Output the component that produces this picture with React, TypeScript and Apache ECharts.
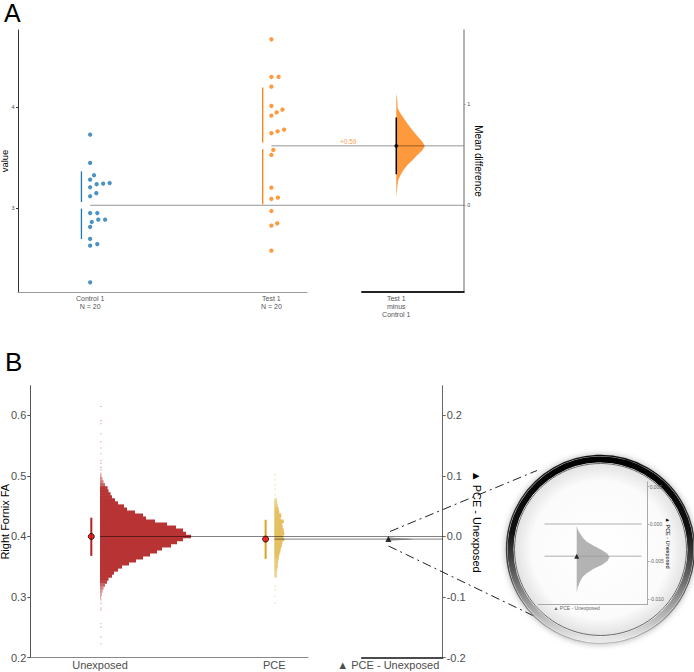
import React, { useEffect, useRef } from "react";
import * as echarts from "echarts";

// ---------------- Panel A data ----------------
const groupsA = ["Control 1", "Test 1"];
const control1 = [3.729, 3.449, 3.327, 3.283, 3.238, 3.244, 3.25, 3.208, 3.149, 3.119, 2.953, 2.953, 2.887, 2.887, 2.864, 2.815, 2.696, 2.63, 2.644, 2.267];
// beeswarm offsets (in dot widths)
const control1Swarm = [0, 0, 0.6, 0, 1, 2, 3, 0, 0.95, 0, 0, 1.1, 1.25, 2.3, 0.25, 0, 0, 0, 1.1, 0];
const test1 = [4.673, 4.3, 4.3, 4.204, 4.013, 3.976, 3.95, 3.917, 3.778, 3.762, 3.743, 3.578, 3.528, 3.204, 3.105, 3.092, 2.973, 2.851, 2.828, 2.58];
const test1Swarm = [0, 0, 1.1, 0, 0, 1.7, 0.8, 0, 1.95, 0.95, 0, 0.3, 0, 0, 1.0, 0, 0, 0.9, 0, 0];
const diffCI_A = [0.306, 0.87];
// bootstrap distribution of the mean difference (value, relative density)
const bootA_y = [1.109, 1.039, 0.961, 0.908, 0.859, 0.809, 0.743, 0.677, 0.628, 0.588, 0.546, 0.497, 0.447, 0.398, 0.348, 0.299, 0.25, 0.184, 0.085];
const bootA_d = [0, 0.035, 0.05, 0.15, 0.27, 0.39, 0.57, 0.77, 0.92, 1.0, 0.92, 0.74, 0.57, 0.39, 0.25, 0.15, 0.07, 0.035, 0];
const valueTicksA = [3, 4];
const diffTicksA = [0, 1];

// ---------------- Panel B data ----------------
const groupsB = ["Unexposed", "PCE"];
const contrastB = "▲ PCE - Unexposed";
// histogram bins: [Right Fornix FA, count]
const unexposedHist = [
  [0.5, 1.5], [0.495, 2.5], [0.49, 3.5], [0.485, 5], [0.48, 7.5], [0.475, 8.5], [0.47, 10.5], [0.465, 12],
  [0.46, 15], [0.455, 18], [0.45, 24], [0.445, 27], [0.44, 35], [0.435, 43], [0.43, 46], [0.425, 55],
  [0.42, 67], [0.415, 76], [0.41, 83], [0.405, 86], [0.4, 91], [0.395, 83], [0.39, 77], [0.385, 71],
  [0.38, 62], [0.375, 57], [0.37, 50], [0.365, 43], [0.36, 36], [0.355, 29], [0.35, 22], [0.345, 18],
  [0.34, 14], [0.335, 12], [0.33, 8.5], [0.325, 7], [0.32, 5], [0.315, 3.5], [0.31, 2.5], [0.305, 1.8], [0.3, 1.2],
];
const unexposedTail = [0.6145, 0.591, 0.586, 0.5695, 0.556, 0.546, 0.5365, 0.5254, 0.521, 0.514, 0.51, 0.5046, 0.2955, 0.29, 0.282, 0.279, 0.256, 0.2505, 0.234, 0.223];
const pceHist = [
  [0.46, 2.5], [0.455, 3], [0.45, 3.5], [0.445, 4.5], [0.44, 5], [0.435, 7], [0.43, 6.5], [0.425, 9.5],
  [0.42, 8], [0.415, 8.5], [0.41, 9.5], [0.405, 10], [0.4, 9], [0.395, 10], [0.39, 8], [0.385, 7.5],
  [0.38, 6.5], [0.375, 6], [0.37, 5], [0.365, 4.5], [0.36, 4], [0.355, 3.5], [0.35, 3.5], [0.345, 3], [0.34, 2.5], [0.335, 2.5],
];
const pceTail = [0.5018, 0.4936, 0.4853, 0.478, 0.4688, 0.3175, 0.312, 0.301, 0.29];
const groupMeanB = [0.4, 0.3957];
const groupCI_B = [[0.368, 0.431], [0.363, 0.4276]];
const bootB_y = [-0.00027, -0.0008, -0.00124, -0.0018, -0.00237, -0.0029, -0.00348, -0.004, -0.00445, -0.0049, -0.00548, -0.006, -0.00659, -0.0071, -0.00771, -0.0085, -0.00927];
const bootB_d = [0, 0.04, 0.1, 0.18, 0.31, 0.52, 0.77, 0.95, 1, 0.95, 0.77, 0.52, 0.31, 0.18, 0.1, 0.03, 0];
const leftTicksB = [0.2, 0.3, 0.4, 0.5, 0.6];
const rightTicksB = [-0.2, -0.1, 0, 0.1, 0.2];
const miniTicks = [0.005, 0, -0.005, -0.01];

// ---------------- layout / style constants ----------------
const FONT = "'Liberation Sans', Arial, Helvetica, sans-serif";
const TXT = "#4d4d4d";
const colorsA = ["#1f77b4", "#ff7f0e"];
const groupPosA = [0, 1, 1.689];
const groupPosB = [0, 1, 1.654];
const xMinA = -0.398, xMaxA = 2.061, yMinA = 2.171, yMaxA = 4.765;
const xMinB = -0.4, xMaxB = 1.966, yMinB = 0.2, yMaxB = 0.6488;
const dotStepA = 0.0359;
const errOffsetA = -0.048;
const violinWidthA = 0.157;
const diffLabelXA = 1.424;
const histScaleB = 0.522 / 91;
const dotOffsetB = -0.05;
const violinWidthB = 0.143;
const violinWidthMini = 0.849;

const meanOf = (a: number[]) => a.reduce((s, v) => s + v, 0) / a.length;
const sdOf = (a: number[]) => {
  const m = meanOf(a);
  return Math.sqrt(a.reduce((s, v) => s + (v - m) * (v - m), 0) / (a.length - 1));
};
// colour mixed with white at the given opacity (opaque result, no overlap stripes)
const onWhite = (rgb: number[], a: number) =>
  `rgb(${rgb.map((c) => Math.round(255 - (255 - c) * a)).join(",")})`;

function buildOption() {
  const rawA = [control1, test1];
  const swarmA = [control1Swarm, test1Swarm];
  const meansA = rawA.map(meanOf);
  const sdsA = rawA.map(sdOf);
  const ctrlMean = meansA[0];
  const meanDiffA = meansA[1] - meansA[0];
  const labelsA = [
    `${groupsA[0]}\nN = ${control1.length}`,
    `${groupsA[1]}\nN = ${test1.length}`,
    `${groupsA[1]}\nminus\n${groupsA[0]}`,
  ];
  const meanDiffB = groupMeanB[1] - groupMeanB[0];
  const labelsB = [groupsB[0], groupsB[1], contrastB];

  const pick = (pos: number[], labels: string[]) => (v: number) => {
    const i = pos.findIndex((p) => Math.abs(p - v) < 1e-6);
    return i >= 0 ? labels[i] : "";
  };

  const segX = (gridIndex: number, color: string, width: number) => ({
    gridIndex, type: "value", min: 0, max: 1,
    axisLine: { show: true, onZero: false, lineStyle: { color, width } },
    axisTick: { show: false }, axisLabel: { show: false }, splitLine: { show: false },
  });
  const hiddenY = (gridIndex: number) => ({ gridIndex, type: "value", min: 0, max: 1, show: false, axisLine: { onZero: false } });

  const violin = (xAxisIndex: number, yAxisIndex: number, xPos: number, ys: number[], dens: number[], width: number, fill: string, z = 2) => ({
    type: "custom", xAxisIndex, yAxisIndex, clip: false, silent: true, z,
    data: [[xPos, ys[0]]],
    renderItem: (_p: any, api: any) => ({
      type: "polygon",
      shape: { points: ys.map((y, i) => api.coord([xPos + dens[i] * width, y])) },
      style: { fill },
    }),
  });
  const hLine = (xAxisIndex: number, yAxisIndex: number, x0: number, x1: number, y: number, color: string, width: number, z = 3) => ({
    type: "line", xAxisIndex, yAxisIndex, symbol: "none", silent: true, z,
    data: [[x0, y], [x1, y]],
    lineStyle: { color, width },
  });
  const hist = (bins: number[][], base: number, rgb: number[], maxAlpha: number) => ({
    type: "custom", xAxisIndex: 3, yAxisIndex: 4, clip: false, silent: true,
    data: bins,
    renderItem: (_p: any, api: any) => {
      const v = api.value(0), c = api.value(1);
      const p0 = api.coord([base, v + 0.0025]);
      const p1 = api.coord([base + c * histScaleB, v - 0.0025]);
      const alpha = Math.min(maxAlpha, 0.3 + c * 0.08);
      return {
        type: "rect",
        shape: { x: p0[0], y: p0[1] - 0.3, width: Math.max(p1[0] - p0[0], 1), height: p1[1] - p0[1] + 0.6 },
        style: { fill: onWhite(rgb, alpha) },
      };
    },
  });
  const tail = (vals: number[], base: number, rgb: number[]) => ({
    type: "custom", xAxisIndex: 3, yAxisIndex: 4, clip: false, silent: true,
    data: vals.map((v) => [v, 1.8]),
    renderItem: (_p: any, api: any) => {
      const v = api.value(0), c = api.value(1);
      const p0 = api.coord([base, v + 0.001]);
      const p1 = api.coord([base + c * histScaleB, v - 0.001]);
      return {
        type: "rect",
        shape: { x: p0[0], y: p0[1], width: p1[0] - p0[0], height: p1[1] - p0[1] },
        style: { fill: onWhite(rgb, 0.3) },
      };
    },
  });

  const lens = { cx: 600.5, cy: 549.5, r: 94 };

  return {
    animation: false,
    textStyle: { fontFamily: FONT },
    grid: [
      { left: 18, top: 30, width: 445.7, height: 262, outerBoundsMode: "none" },
      { left: 18, top: 30, width: 289, height: 262, outerBoundsMode: "none" },
      { left: 362, top: 30, width: 101.7, height: 262, outerBoundsMode: "none" },
      { left: 30.3, top: 385.7, width: 412.4, height: 272, outerBoundsMode: "none" },
      { left: 30.3, top: 385.7, width: 277.7, height: 272, outerBoundsMode: "none" },
      { left: 361.7, top: 385.7, width: 81, height: 272, outerBoundsMode: "none" },
      { left: 538.3, top: 481.7, width: 109.4, height: 122.3, outerBoundsMode: "none" },
    ],
    xAxis: [
      {
        gridIndex: 0, type: "value", min: xMinA, max: xMaxA,
        axisLine: { show: false, onZero: false }, axisTick: { show: false }, splitLine: { show: false },
        axisLabel: { customValues: groupPosA, formatter: pick(groupPosA, labelsA), fontSize: 7, lineHeight: 7.8, color: "#555555", margin: 2.5 },
      },
      segX(1, "#999", 1),
      segX(2, "#222", 2),
      {
        gridIndex: 3, type: "value", min: xMinB, max: xMaxB,
        axisLine: { show: false, onZero: false }, axisTick: { show: false }, splitLine: { show: false },
        axisLabel: { customValues: groupPosB, formatter: pick(groupPosB, labelsB), fontSize: 11, color: TXT, margin: 2 },
      },
      segX(4, "#888", 1),
      segX(5, "#111", 1.5),
      {
        gridIndex: 6, type: "value", min: -1, max: 1.849, z: 10,
        axisLine: { show: true, onZero: false, lineStyle: { color: "#aaa", width: 1 } },
        axisTick: { show: false }, splitLine: { show: false },
        axisLabel: { customValues: [0], formatter: () => contrastB, fontSize: 5, color: "#666666", margin: 1.5 },
      },
    ],
    yAxis: [
      {
        gridIndex: 0, type: "value", position: "left", min: yMinA, max: yMaxA,
        axisLine: { show: true, onZero: false, lineStyle: { color: "#333", width: 1 } },
        axisTick: { show: true, length: 2, customValues: valueTicksA, lineStyle: { color: "#333" } },
        axisLabel: { customValues: valueTicksA, fontSize: 5.5, color: TXT, margin: 3.5 },
        splitLine: { show: false },
        name: "value", nameLocation: "middle", nameGap: 8.5, nameRotate: 90, nameMoveOverlap: false,
        nameTextStyle: { fontSize: 9.5, color: "#000" },
      },
      {
        gridIndex: 0, type: "value", position: "right", min: yMinA - ctrlMean, max: yMaxA - ctrlMean,
        axisLine: { show: true, onZero: false, lineStyle: { color: "#999", width: 1.5 } },
        axisTick: { show: true, length: 2, customValues: diffTicksA, lineStyle: { color: "#999" } },
        axisLabel: { customValues: diffTicksA, fontSize: 5.5, color: TXT, margin: 3.5 },
        splitLine: { show: false },
        name: "Mean difference", nameLocation: "middle", nameGap: 10, nameRotate: -90, nameMoveOverlap: false,
        nameTextStyle: { fontSize: 10, color: "#000" },
      },
      hiddenY(1),
      hiddenY(2),
      {
        gridIndex: 3, type: "value", position: "left", min: yMinB, max: yMaxB,
        axisLine: { show: true, onZero: false, lineStyle: { color: "#555", width: 1 } },
        axisTick: { show: true, length: 3, customValues: leftTicksB, lineStyle: { color: "#555" } },
        axisLabel: { customValues: leftTicksB, formatter: (v: number) => v.toFixed(1), fontSize: 11, color: TXT, margin: 4 },
        splitLine: { show: false },
        name: "Right Fornix FA", nameLocation: "middle", nameGap: 20, nameRotate: 90, nameMoveOverlap: false,
        nameTextStyle: { fontSize: 11, color: "#000" },
      },
      {
        gridIndex: 3, type: "value", position: "right", min: yMinB - groupMeanB[0], max: yMaxB - groupMeanB[0],
        axisLine: { show: true, onZero: false, lineStyle: { color: "#666", width: 1 } },
        axisTick: { show: true, length: 3, customValues: rightTicksB, lineStyle: { color: "#666" } },
        axisLabel: { customValues: rightTicksB, formatter: (v: number) => v.toFixed(1), fontSize: 11, color: TXT, margin: 4 },
        splitLine: { show: false },
        name: contrastB, nameLocation: "middle", nameGap: 29, nameRotate: -90, nameMoveOverlap: false,
        nameTextStyle: { fontSize: 11, color: "#000" },
      },
      hiddenY(4),
      hiddenY(5),
      {
        gridIndex: 6, type: "value", position: "right", min: -0.0107, max: 0.00566, z: 10,
        axisLine: { show: true, onZero: false, lineStyle: { color: "#aaa", width: 1 } },
        axisTick: { show: true, length: 1.5, customValues: miniTicks, lineStyle: { color: "#aaa" } },
        axisLabel: { customValues: miniTicks, formatter: (v: number) => v.toFixed(3), fontSize: 5, color: "#666666", margin: 2 },
        splitLine: { show: false },
      },
    ],
    graphic: {
      elements: [
        { type: "text", x: 4, y: 0, z: 5, style: { text: "A", fontSize: 25, fill: "#000", fontFamily: FONT, verticalAlign: "top", align: "left" } },
        { type: "text", x: 5, y: 349, z: 5, style: { text: "B", fontSize: 26, fill: "#000", fontFamily: FONT, verticalAlign: "top", align: "left" } },
        { type: "line", z: 1, shape: { x1: 390, y1: 531.5, x2: 537, y2: 470.5 }, style: { stroke: "#222", lineWidth: 1, lineDash: [9, 4, 2, 4] } },
        { type: "line", z: 1, shape: { x1: 388.5, y1: 546, x2: 536, y2: 617 }, style: { stroke: "#222", lineWidth: 1, lineDash: [9, 4, 2, 4] } },
        {
          type: "circle", z: 2, shape: { cx: lens.cx, cy: lens.cy, r: lens.r },
          style: {
            fill: "#fff", lineWidth: 1.4, shadowBlur: 6, shadowColor: "rgba(0,0,0,0.3)",
            stroke: new echarts.graphic.LinearGradient(0, 0, 0, 1, [
              { offset: 0, color: "#111" }, { offset: 0.6, color: "#444" }, { offset: 1, color: "#bbb" },
            ]),
          },
        },
        {
          type: "circle", z: 2, shape: { cx: lens.cx, cy: lens.cy, r: lens.r - 4 },
          style: {
            fill: "none", lineWidth: 6,
            stroke: new echarts.graphic.LinearGradient(0, 0, 0, 1, [
              { offset: 0, color: "#000" }, { offset: 0.4, color: "#111" }, { offset: 0.7, color: "#777" }, { offset: 1, color: "#e8e8e8" },
            ]),
          },
        },
        {
          type: "circle", z: 2, shape: { cx: lens.cx, cy: lens.cy, r: lens.r - 8 },
          style: {
            stroke: "#444", lineWidth: 0.8,
            fill: new echarts.graphic.RadialGradient(0.5, 0.5, 0.5, [
              { offset: 0, color: "#ffffff" }, { offset: 0.8, color: "#fbfbfb" }, { offset: 1, color: "#e2e2e2" },
            ]),
          },
        },
        {
          type: "text", z: 20, x: 667.7, y: 543, rotation: -Math.PI / 2,
          style: { text: contrastB, fontSize: 5.5, fill: "#000", fontFamily: FONT, align: "center", verticalAlign: "middle" },
        },
      ],
    },
    series: [
      // ----- Panel A -----
      ...rawA.map((vals, g) => ({
        type: "scatter", xAxisIndex: 0, yAxisIndex: 0, symbolSize: 4.3, silent: true, z: 4,
        data: vals.map((v, i) => [groupPosA[g] + swarmA[g][i] * dotStepA, v]),
        itemStyle: { color: colorsA[g] },
      })),
      {
        type: "custom", xAxisIndex: 0, yAxisIndex: 0, clip: false, silent: true,
        data: meansA.map((m, i) => [groupPosA[i] + errOffsetA, m, sdsA[i], i]),
        renderItem: (_p: any, api: any) => {
          const x = api.value(0), m = api.value(1), sd = api.value(2), i = api.value(3);
          const top = api.coord([x, m + sd]), mid = api.coord([x, m]), bot = api.coord([x, m - sd]);
          const st = { stroke: colorsA[i], lineWidth: 1.3 };
          return {
            type: "group",
            children: [
              { type: "line", shape: { x1: top[0], y1: top[1], x2: mid[0], y2: mid[1] - 3.3 }, style: st },
              { type: "line", shape: { x1: mid[0], y1: mid[1] + 3.3, x2: bot[0], y2: bot[1] }, style: st },
            ],
          };
        },
      },
      violin(0, 1, groupPosA[2], bootA_y, bootA_d, violinWidthA, "rgba(255,127,14,0.8)"),
      hLine(0, 0, groupPosA[0], xMaxA, meansA[0], "rgba(0,0,0,0.42)", 1),
      hLine(0, 0, groupPosA[1], xMaxA, meansA[1], "rgba(0,0,0,0.42)", 1),
      {
        type: "line", xAxisIndex: 0, yAxisIndex: 1, symbol: "none", silent: true, z: 5,
        data: [[groupPosA[2], diffCI_A[0]], [groupPosA[2], diffCI_A[1]]],
        lineStyle: { color: "#000", width: 1.5 },
      },
      {
        type: "scatter", xAxisIndex: 0, yAxisIndex: 1, symbolSize: 4, silent: true, z: 6,
        data: [[groupPosA[2], meanDiffA]], itemStyle: { color: "#000" },
      },
      {
        type: "scatter", xAxisIndex: 0, yAxisIndex: 1, symbolSize: 1, silent: true, z: 6,
        data: [[diffLabelXA, meanDiffA]], itemStyle: { color: "transparent" },
        label: {
          show: true, position: "top", distance: 0.5, fontSize: 6.5, color: "#ff7f0e",
          formatter: () => (meanDiffA >= 0 ? "+" : "") + meanDiffA.toFixed(2),
        },
      },
      // ----- Panel B -----
      hist(unexposedHist, groupPosB[0], [178, 34, 34], 0.92),
      tail(unexposedTail, groupPosB[0], [178, 34, 34]),
      hist(pceHist, groupPosB[1], [218, 165, 32], 0.7),
      tail(pceTail, groupPosB[1], [218, 165, 32]),
      {
        type: "custom", xAxisIndex: 3, yAxisIndex: 4, clip: false, silent: true,
        data: groupCI_B.map((ci, i) => [groupPosB[i] + dotOffsetB, ci[0], ci[1], i]),
        renderItem: (_p: any, api: any) => {
          const x = api.value(0), i = api.value(3);
          const a = api.coord([x, api.value(1)]), b = api.coord([x, api.value(2)]);
          return { type: "line", shape: { x1: a[0], y1: a[1], x2: b[0], y2: b[1] }, style: { stroke: i === 0 ? "#b22222" : "#daa520", lineWidth: 2 } };
        },
      },
      hLine(3, 4, groupPosB[0], xMaxB, groupMeanB[0], "rgba(0,0,0,0.5)", 1),
      hLine(3, 4, groupPosB[1], xMaxB, groupMeanB[1], "rgba(0,0,0,0.5)", 1),
      {
        type: "scatter", xAxisIndex: 3, yAxisIndex: 4, symbolSize: 6, silent: true, z: 6,
        data: groupMeanB.map((m, i) => [groupPosB[i] + dotOffsetB, m]),
        itemStyle: { color: "#ee0000", borderColor: "#000", borderWidth: 1 },
      },
      violin(3, 5, groupPosB[2], bootB_y, bootB_d, violinWidthB, "rgba(120,120,120,0.55)"),
      {
        type: "scatter", xAxisIndex: 3, yAxisIndex: 5, symbol: "triangle", symbolSize: 6, silent: true, z: 6,
        data: [[groupPosB[2], meanDiffB]], itemStyle: { color: "#000" },
      },
      // ----- magnifier inset -----
      hLine(6, 8, -0.84, 1.69, 0, "#9a9a9a", 0.8, 10),
      hLine(6, 8, -0.84, 1.69, meanDiffB, "#9a9a9a", 0.8, 12),
      violin(6, 8, 0, bootB_y, bootB_d, violinWidthMini, "#b3b3b3", 11),
      {
        type: "scatter", xAxisIndex: 6, yAxisIndex: 8, symbol: "triangle", symbolSize: 5, silent: true, z: 13,
        data: [[0, meanDiffB]], itemStyle: { color: "#000" },
      },
    ],
  };
}

export default function App() {
  const ref = useRef<HTMLDivElement>(null);
  useEffect(() => {
    if (!ref.current) return;
    const chart = echarts.init(ref.current, undefined, { renderer: "svg" });
    chart.setOption(buildOption() as any);
    return () => chart.dispose();
  }, []);
  return (
    <div
      ref={ref}
      style={{ position: "fixed", left: 0, top: 0, width: 694, height: 672, background: "#fff" }}
    />
  );
}
